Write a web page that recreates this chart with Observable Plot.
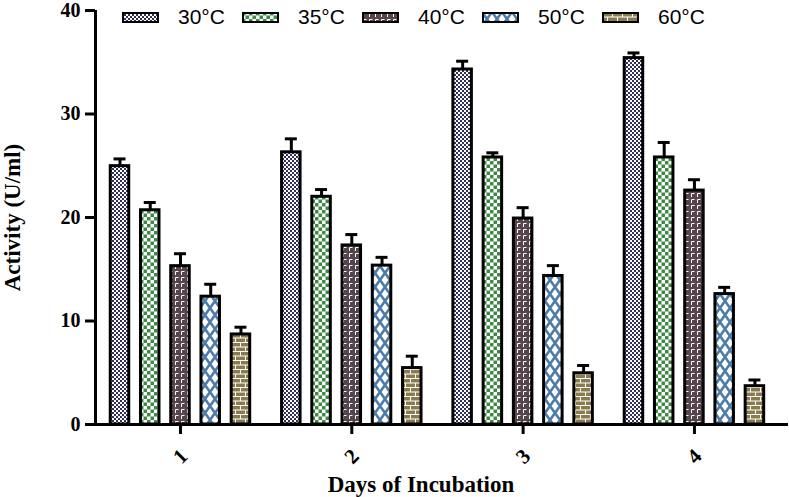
<!DOCTYPE html>
<html><head><meta charset="utf-8">
<script src="https://cdn.jsdelivr.net/npm/d3@7"></script>
<script src="https://cdn.jsdelivr.net/npm/@observablehq/plot@0.6"></script>
<style>
body{margin:0;background:#fff}
#wrap{position:relative;width:789px;height:497px}
#legend{position:absolute;left:122px;top:5px;display:flex;font-family:"Liberation Sans",Arial,sans-serif;font-size:21px;color:#000}
.item{display:flex;align-items:center;width:120px}
.item svg{display:block;margin-right:19px}
</style></head>
<body>
<svg width="0" height="0" style="position:absolute"><defs>
<pattern id="p30" width="4" height="4" patternUnits="userSpaceOnUse"><rect width="4" height="4" fill="#fff"/><rect width="2" height="2" fill="#30305a"/><rect x="2" y="2" width="2" height="2" fill="#30305a"/></pattern>
<pattern id="p35" width="7" height="7" patternUnits="userSpaceOnUse"><rect width="7" height="7" fill="#fff"/><rect width="3.5" height="3.5" fill="#3e8a45"/><rect x="3.5" y="3.5" width="3.5" height="3.5" fill="#3e8a45"/></pattern>
<pattern id="p40" width="6" height="6" patternUnits="userSpaceOnUse"><rect width="6" height="6" fill="#56444e"/><path d="M1.5 5 V1.5 H4.5" stroke="#fff" stroke-width="1" fill="none"/></pattern>
<pattern id="p50" width="10" height="14" patternUnits="userSpaceOnUse"><rect width="10" height="14" fill="#fff"/><path d="M0 0 L10 14 M10 0 L0 14" stroke="#4d7cab" stroke-width="2.6" fill="none"/></pattern>
<pattern id="p60" width="10" height="9" patternUnits="userSpaceOnUse"><rect width="10" height="9" fill="#8a7b4f"/><path d="M0 0.5 H10 M0 5 H10 M0.5 0.5 V5 M5.5 5 V9.5" stroke="#fff" stroke-width="1" fill="none"/></pattern>
</defs></svg>
<div id="wrap"><div id="legend"></div></div>
<script>
const days = [1, 2, 3, 4];
const temps = ["30°C", "35°C", "40°C", "50°C", "60°C"];
const patternIds = ["p30", "p35", "p40", "p50", "p60"];
const act30 = [24.96, 26.3, 34.3, 35.4];
const act35 = [20.7, 22.0, 25.8, 25.8];
const act40 = [15.3, 17.3, 19.9, 22.6];
const act50 = [12.35, 15.35, 14.35, 12.6];
const act60 = [8.7, 5.45, 4.95, 3.7];
const err30 = [0.7, 1.3, 0.8, 0.5];
const err35 = [0.75, 0.7, 0.45, 1.45];
const err40 = [1.2, 1.05, 1.05, 1.05];
const err50 = [1.2, 0.8, 1.0, 0.65];
const err60 = [0.7, 1.15, 0.75, 0.6];
const yTicks = [0, 10, 20, 30, 40];
const xLabel = "Days of Incubation";
const yLabel = "Activity (U/ml)";

const series = [act30, act35, act40, act50, act60];
const errs = [err30, err35, err40, err50, err60];
const rows = [];
temps.forEach((t, k) => days.forEach((d, i) => rows.push({day: d, k, temp: t, value: series[k][i], err: errs[k][i]})));

const step = 0.1765, hw = 0.054, capHw = 0.035;
const cx = r => r.day + (r.k - 2) * step;
const xDomain = [0.504, 4.549];

const marks = [];
patternIds.forEach((pid, k) => {
  const data = rows.filter(r => r.k === k);
  marks.push(Plot.ruleX(data, {x: cx, y1: "value", y2: r => r.value + r.err, stroke: "#000", strokeWidth: 3}));
  marks.push(Plot.ruleY(data, {y: r => r.value + r.err, x1: r => cx(r) - capHw, x2: r => cx(r) + capHw, stroke: "#000", strokeWidth: 3}));
  marks.push(Plot.rect(data, {x1: r => cx(r) - hw, x2: r => cx(r) + hw, y1: 0, y2: "value", fill: `url(#${pid})`, stroke: "#000", strokeWidth: 3}));
});

const plot = Plot.plot({
  width: 789, height: 497,
  marginLeft: 95, marginRight: 1, marginTop: 10, marginBottom: 73,
  style: "font-family:'Liberation Serif','Times New Roman',serif;font-weight:bold;font-size:20px;color:#000;background:transparent;overflow:visible",
  x: {type: "linear", domain: xDomain},
  y: {domain: [0, 40]},
  marks: [
    ...marks,
    Plot.axisY({ticks: yTicks, tickSize: 10, tickPadding: 5, strokeWidth: 3, label: null, fontSize: 20}),
    Plot.axisX({ticks: days, tickSize: 10, strokeWidth: 3, tickFormat: () => "", label: null}),
    Plot.text(days, {x: d => d, text: d => String(d), frameAnchor: "bottom", dy: 32, rotate: -45, fontSize: 21, textAnchor: "middle", lineAnchor: "middle"}),
    Plot.ruleX([xDomain[0]], {stroke: "#000", strokeWidth: 3}),
    Plot.ruleY([0], {stroke: "#000", strokeWidth: 3}),
    Plot.text([xLabel], {frameAnchor: "bottom", dy: 60, dx: -21, fontSize: 23, textAnchor: "middle", lineAnchor: "middle"}),
    Plot.text([yLabel], {frameAnchor: "left", dx: -83, rotate: -90, fontSize: 23, textAnchor: "middle", lineAnchor: "middle"})
  ]
});
document.getElementById("wrap").appendChild(plot);

const legend = d3.select("#legend");
temps.forEach((t, k) => {
  const item = legend.append("div").attr("class", "item");
  const sw = item.append("svg").attr("width", 37).attr("height", 11);
  sw.append("rect").attr("x", 1).attr("y", 1).attr("width", 35).attr("height", 9)
    .attr("fill", `url(#${patternIds[k]})`).attr("stroke", "#000").attr("stroke-width", 2);
  item.append("span").text(t);
});
</script>
</body></html>
